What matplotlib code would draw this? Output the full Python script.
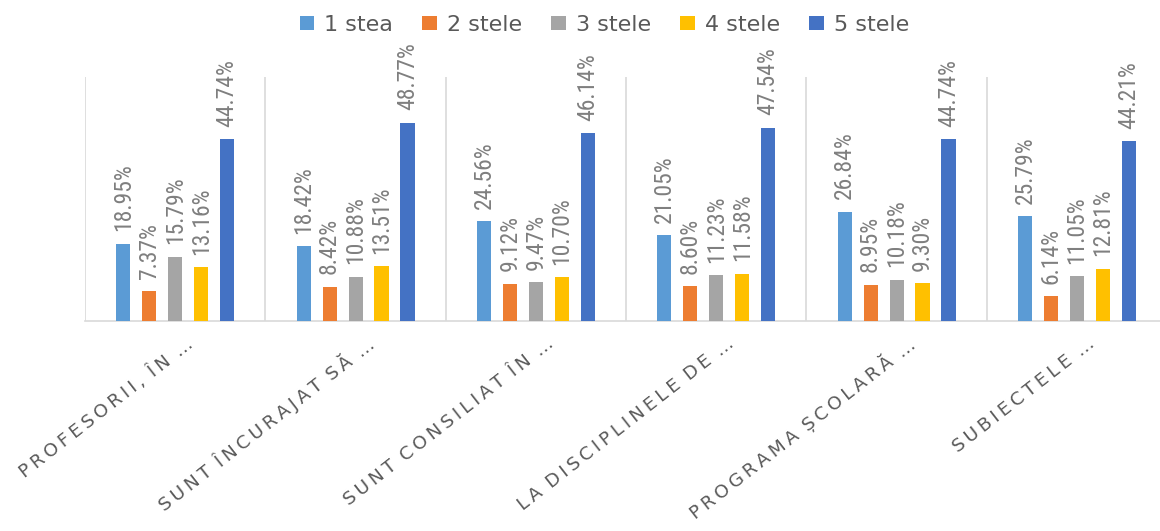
import numpy as np
import matplotlib.pyplot as plt
import matplotlib.transforms as mtransforms
from matplotlib import font_manager

categories = ['PROFESORII, ÎN …', 'SUNT ÎNCURAJAT SĂ …', 'SUNT CONSILIAT ÎN …',
              'LA DISCIPLINELE DE …', 'PROGRAMA ȘCOLARĂ …', 'SUBIECTELE …']
series = ['1 stea', '2 stele', '3 stele', '4 stele', '5 stele']
stea1 = [18.95, 18.42, 24.56, 21.05, 26.84, 25.79]
stele2 = [7.37, 8.42, 9.12, 8.60, 8.95, 6.14]
stele3 = [15.79, 10.88, 9.47, 11.23, 10.18, 11.05]
stele4 = [13.16, 13.51, 10.70, 11.58, 9.30, 12.81]
stele5 = [44.74, 48.77, 46.14, 47.54, 44.74, 44.21]
colors = ['#5B9BD5', '#ED7D31', '#A5A5A5', '#FFC000', '#4472C4']

names = {f.name for f in font_manager.fontManager.ttflist}
def pick(options):
    for o in options:
        if o in names:
            return o
    return 'DejaVu Sans'

label_font = pick(['Roboto Condensed', 'Archivo Narrow', 'PT Sans Narrow', 'Carlito'])


def letter_space(text):
    # thin space between letters, a bit more between words
    words = text.split(' ')
    return '\u2009 '.join('\u2009'.join(w) for w in words)


fig = plt.figure(figsize=(11.6, 5.31), dpi=100)
ax = fig.add_axes([0.0733, 0.3955, 0.9328, 0.4595])

x = np.arange(len(categories))
step = 0.144
width = 0.078
data = [stea1, stele2, stele3, stele4, stele5]
for i, (name, vals) in enumerate(zip(series, data)):
    pos = x + (i - 2) * step
    ax.bar(pos, vals, width, color=colors[i], label=name, zorder=3)
    for px, v in zip(pos, vals):
        ax.annotate(f'{v:.2f}%', (px, v), xytext=(0, 9), textcoords='offset points',
                    rotation=90, ha='center', va='bottom', fontsize=17,
                    color='#7F7F7F', family=label_font)

ax.set_xlim(-0.5, len(categories) - 0.5)
ax.set_ylim(0, 60)
ax.set_yticks([])
for s in ['top', 'right', 'left']:
    ax.spines[s].set_visible(False)
ax.spines['bottom'].set_color('#D9D9D9')
ax.spines['bottom'].set_linewidth(1.2)

# separators between categories
for b in np.arange(-0.5, len(categories), 1):
    ax.axvline(b, color='#D9D9D9', lw=1.2, zorder=1)

ax.set_xticks(x)
ax.set_xticklabels([letter_space(c) for c in categories], rotation=38, ha='right',
                   va='center', rotation_mode='anchor', fontsize=13.3, color='#595959',
                   family='DejaVu Sans')
ax.tick_params(axis='x', length=0, pad=15)
shift = mtransforms.ScaledTranslation(16 / 100, 0, fig.dpi_scale_trans)
for lab in ax.get_xticklabels():
    lab.set_transform(lab.get_transform() + shift)

fig.legend(loc='center', bbox_to_anchor=(0.521, 0.953), ncol=5, frameon=False,
           prop={'family': 'DejaVu Sans', 'size': 16}, handlelength=0.65, handleheight=0.55,
           handletextpad=0.45, columnspacing=1.32, labelcolor='#595959')

fig.savefig('out.png', dpi=100)
